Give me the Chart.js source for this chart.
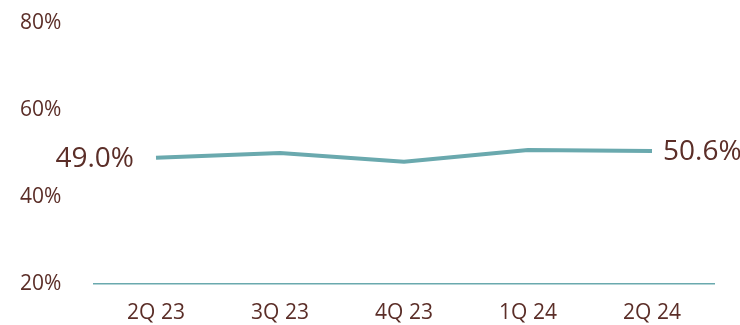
<!DOCTYPE html>
<html>
<head>
<meta charset="utf-8">
<script src="https://cdn.jsdelivr.net/npm/chart.js@4"></script>
<style>
  html, body { margin: 0; padding: 0; background: #fff; }
  #wrap { width: 740px; height: 325px; }
</style>
</head>
<body>
<div id="wrap"><canvas id="myChart"></canvas></div>
<script>
const quarters = ['2Q 23', '3Q 23', '4Q 23', '1Q 24', '2Q 24'];
const ratio = [49.0, 50.1, 48.1, 50.8, 50.6];
const yTicks = [20, 40, 60, 80];

const brown = '#5b2e28';
const teal = '#6aa9ae';

// end labels: first value on the left, last value on the right
const endLabels = {
  id: 'endLabels',
  afterDatasetsDraw(chart) {
    const meta = chart.getDatasetMeta(0);
    const c = chart.ctx;
    const first = meta.data[0];
    const last = meta.data[meta.data.length - 1];
    c.save();
    c.fillStyle = brown;
    c.font = '28px "Open Sans"';
    c.textBaseline = 'middle';
    c.textAlign = 'right';
    c.fillText(ratio[0].toFixed(1) + '%', first.x - 22, first.y + 1);
    c.textAlign = 'left';
    c.fillText(ratio[ratio.length - 1].toFixed(1) + '%', last.x + 11, last.y + 1);
    c.restore();
  }
};

new Chart(document.getElementById('myChart'), {
  type: 'line',
  data: {
    labels: quarters,
    datasets: [{
      data: ratio,
      borderColor: teal,
      borderWidth: 4,
      pointRadius: 0,
      tension: 0,
      fill: false
    }]
  },
  options: {
    responsive: true,
    maintainAspectRatio: false,
    animation: false,
    layout: { padding: { left: 20, right: 26, top: 23, bottom: 0 } },
    plugins: {
      legend: { display: false },
      tooltip: { enabled: false }
    },
    scales: {
      x: {
        offset: true,
        afterFit(scale) { scale.height = 41; },
        grid: { display: false },
        border: { display: true, color: teal, width: 1.5 },
        ticks: { color: brown, font: { family: 'Open Sans', size: 21 }, padding: 8 }
      },
      y: {
        min: 20,
        max: 80,
        afterBuildTicks(scale) { scale.ticks = yTicks.map(v => ({ value: v })); },
        afterFit(scale) { scale.width = 74; },
        grid: { display: false },
        border: { display: false },
        ticks: {
          color: brown,
          crossAlign: 'far',
          font: { family: 'Open Sans', size: 21 },
          callback: v => v + '%'
        }
      }
    }
  },
  plugins: [endLabels]
});
</script>
</body>
</html>
